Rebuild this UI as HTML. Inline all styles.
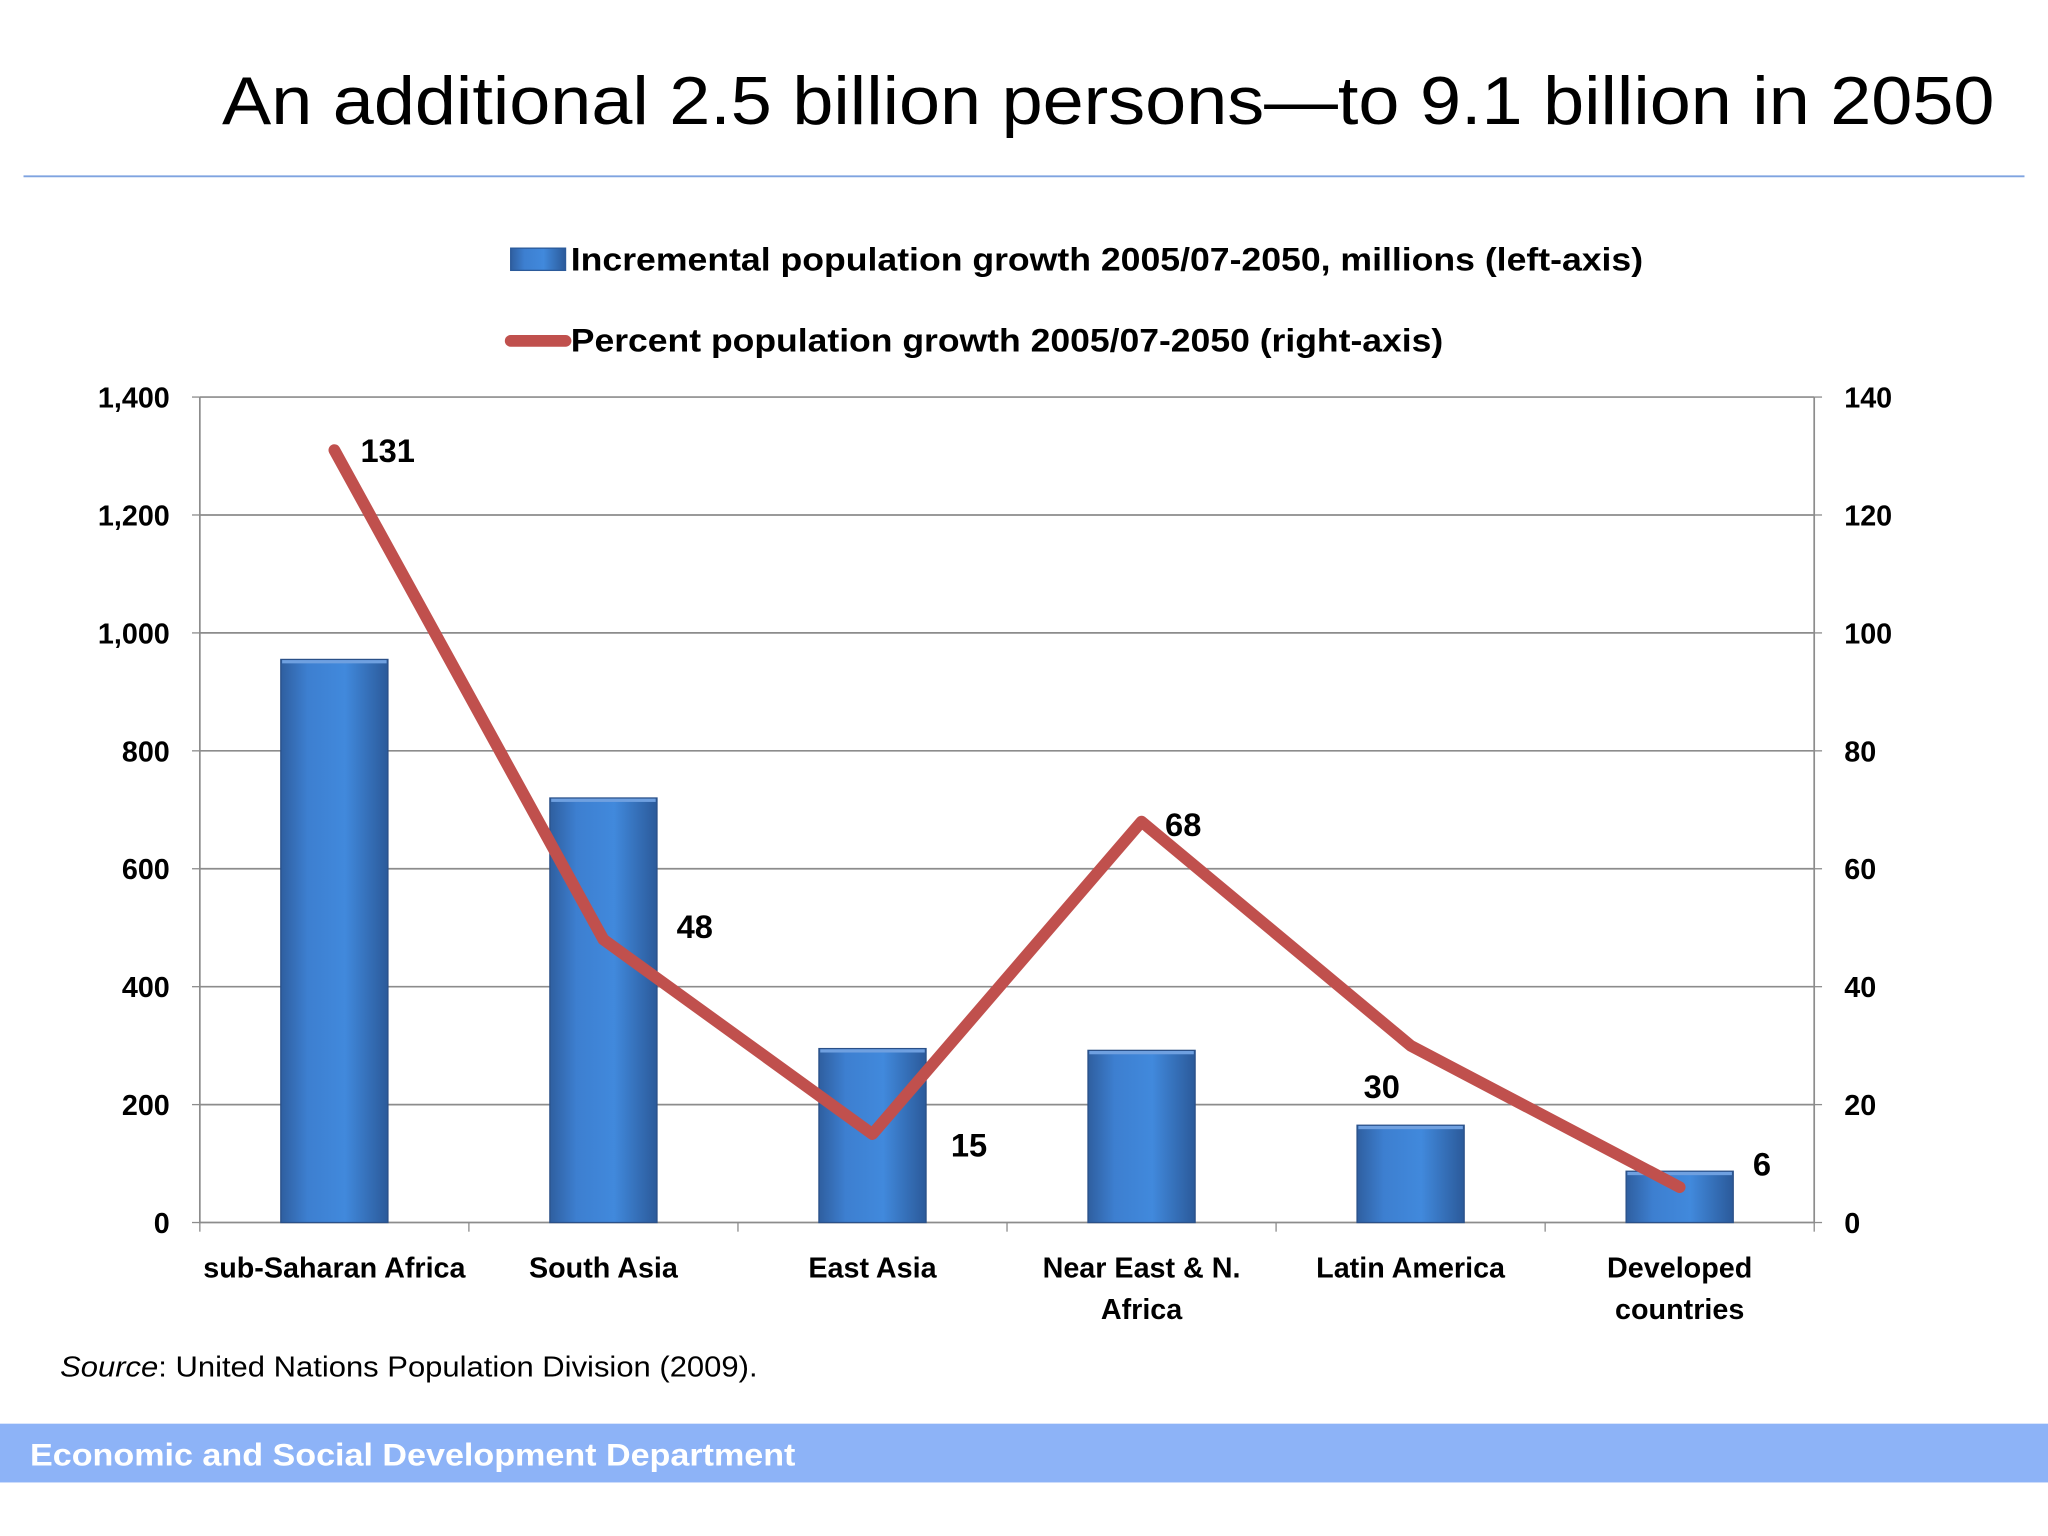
<!DOCTYPE html>
<html><head><meta charset="utf-8"><style>
html,body{margin:0;padding:0;background:#fff;}
svg{display:block;}
text{font-family:"Liberation Sans",sans-serif;}
</style></head><body>
<svg id="chart" width="2048" height="1536" viewBox="0 0 1568 1176" xmlns="http://www.w3.org/2000/svg">
<defs>
<linearGradient id="barg" x1="0" x2="1" y1="0" y2="0">
<stop offset="0" stop-color="#2f5fa0"/><stop offset="0.25" stop-color="#3d7fd0"/><stop offset="0.6" stop-color="#4189dc"/><stop offset="1" stop-color="#2b5a9a"/>
</linearGradient>
</defs>
<text x="170" y="95" font-size="52" fill="#000" textLength="1357" lengthAdjust="spacingAndGlyphs">An additional 2.5 billion persons—to 9.1 billion in 2050</text>
<line x1="18" y1="135" x2="1550" y2="135" stroke="#7fa3e0" stroke-width="1.5"/>
<g>
<rect x="391" y="190" width="42" height="17" fill="url(#barg)" stroke="#2b5a9a"/>
<text x="437" y="207" font-size="25" font-weight="bold" textLength="821" lengthAdjust="spacingAndGlyphs">Incremental population growth 2005/07-2050, millions (left-axis)</text>
<line x1="391" y1="261" x2="433" y2="261" stroke="#c0504d" stroke-width="9" stroke-linecap="round"/>
<text x="437" y="269" font-size="25" font-weight="bold" textLength="668" lengthAdjust="spacingAndGlyphs">Percent population growth 2005/07-2050 (right-axis)</text>
</g>
<g id="plot"></g>
<text x="46" y="1054" font-size="22" textLength="534" lengthAdjust="spacingAndGlyphs"><tspan font-style="italic">Source</tspan>: United Nations Population Division (2009).</text>
<rect x="0" y="1090" width="1568" height="45" fill="#8db3f7"/>
<text x="23" y="1122" font-size="24" font-weight="bold" fill="#fff" textLength="586" lengthAdjust="spacingAndGlyphs">Economic and Social Development Department</text>
</svg>
<script>
const categories=[["sub-Saharan Africa"],["South Asia"],["East Asia"],["Near East & N.","Africa"],["Latin America"],["Developed","countries"]];
const barValues=[955,720,295,292,165,87];
const lineValues=[131,48,15,68,30,6];
const leftTicks=[0,200,400,600,800,1000,1200,1400];
const rightTicks=[0,20,40,60,80,100,120,140];
const labelOffsets=[[20,0],[56,-10],[60,8],[18,2],[-36,31],[56,-18]];
const NS="http://www.w3.org/2000/svg";
const L=153,R=1389,T=304,B=936;
const yL=v=>B-(v/1400)*(B-T);
const yR=v=>B-(v/140)*(B-T);
const step=(R-L)/categories.length;
const xC=i=>L+step*(i+0.5);
const g=document.getElementById('plot');
function mk(tag,attrs,parent){const e=document.createElementNS(NS,tag);for(const k in attrs)e.setAttribute(k,attrs[k]);(parent||g).appendChild(e);return e;}
leftTicks.forEach((v,i)=>{
  if(v>0){const gl=mk('line',{x1:L,x2:R,y1:yL(v),y2:yL(v),stroke:'#8c8c8c','stroke-width':1.3});
  
  }
  const t=mk('text',{x:130,y:yL(v)+8,'text-anchor':'end','font-size':22,'font-weight':'bold'});t.textContent=v.toLocaleString('en-US');
  
  
  const tk=mk('line',{x1:L-6,x2:L,y1:yL(v),y2:yL(v),stroke:'#8c8c8c'});
  
  
});
rightTicks.forEach(v=>{
  const t=mk('text',{x:1412,y:yR(v)+8,'font-size':22,'font-weight':'bold'});t.textContent=v;
  
  
  const tk=mk('line',{x1:R,x2:R+6,y1:yR(v),y2:yR(v),stroke:'#8c8c8c'});
  
  
});
const ax=mk('path',{d:`M${L},${T}V${B}H${R}V${T}`,fill:'none',stroke:'#8c8c8c','stroke-width':1.3});


for(let i=0;i<=categories.length;i++){const tk=mk('line',{x1:L+step*i,x2:L+step*i,y1:B,y2:B+7,stroke:'#8c8c8c'});

}
barValues.forEach((v,i)=>{
  const b=mk('rect',{x:xC(i)-41,y:yL(v),width:82,height:B-yL(v),fill:'url(#barg)',stroke:'#2a5088','stroke-width':1});
  
  
  const hl=mk('rect',{x:xC(i)-40,y:yL(v)+0.5,width:80,height:2.5,fill:'#6fa0e0'});
  
  
});
const pl=mk('polyline',{points:lineValues.map((v,i)=>xC(i)+','+yR(v)).join(' '),fill:'none',stroke:'#c0504d','stroke-width':9,'stroke-linejoin':'round','stroke-linecap':'round'});


lineValues.forEach((v,i)=>{
  const t=mk('text',{x:xC(i)+labelOffsets[i][0],y:yR(v)+labelOffsets[i][1]+9,'font-size':25,'font-weight':'bold'});t.textContent=v;
  
  
});
categories.forEach((c,i)=>{
  c.forEach((ln,j)=>{
    const t=mk('text',{x:xC(i),y:978+j*32,'text-anchor':'middle','font-size':22,'font-weight':'bold'});t.textContent=ln;
    
    
  });
});
</script>
</body></html>
